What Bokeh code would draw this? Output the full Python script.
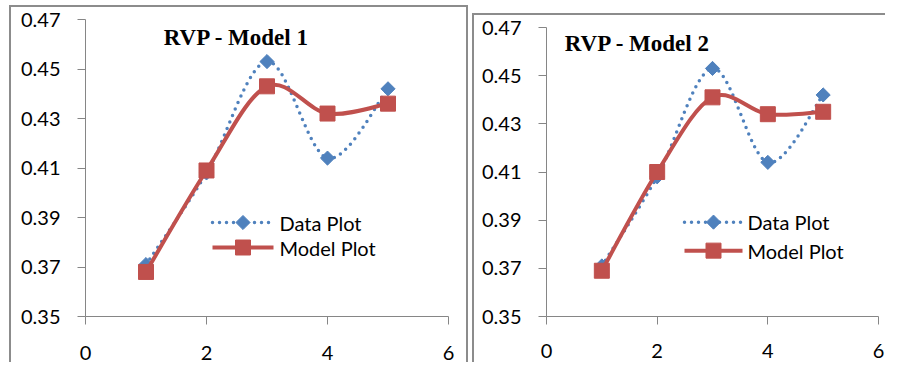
import numpy as np
from bokeh.plotting import figure
from bokeh.models import Range1d, FixedTicker, NumeralTickFormatter, Label
from bokeh.layouts import row
from bokeh.embed import file_html
from bokeh.resources import INLINE

# ---- data ----
x_vals = [1, 2, 3, 4, 5]
data_plot = [0.371, 0.408, 0.453, 0.414, 0.442]
model1_plot = [0.368, 0.409, 0.443, 0.432, 0.436]
model2_plot = [0.369, 0.410, 0.441, 0.434, 0.435]
titles = ["RVP - Model 1", "RVP - Model 2"]
series_names = ["Data Plot", "Model Plot"]
x_ticks = [0, 2, 4, 6]
y_ticks = [0.35, 0.37, 0.39, 0.41, 0.43, 0.45, 0.47]

BLUE = "#4F81BD"
RED = "#C0504D"
AXIS = "#868686"
BORDER = "#8c8c8c"
FONT = "Lato"


def smooth_segments(xs, ys):
    """Catmull-Rom style Bezier control points (Excel 'smoothed line')."""
    x = np.asarray(xs, float)
    y = np.asarray(ys, float)
    xp = np.concatenate([[x[0]], x, [x[-1]]])
    yp = np.concatenate([[y[0]], y, [y[-1]]])
    seg = dict(x0=[], y0=[], x1=[], y1=[], cx0=[], cy0=[], cx1=[], cy1=[])
    for i in range(len(x) - 1):
        j = i + 1
        seg["x0"].append(xp[j]); seg["y0"].append(yp[j])
        seg["x1"].append(xp[j + 1]); seg["y1"].append(yp[j + 1])
        seg["cx0"].append(xp[j] + (xp[j + 1] - xp[j - 1]) / 6)
        seg["cy0"].append(yp[j] + (yp[j + 1] - yp[j - 1]) / 6)
        seg["cx1"].append(xp[j + 1] - (xp[j + 2] - xp[j]) / 6)
        seg["cy1"].append(yp[j + 1] - (yp[j + 2] - yp[j]) / 6)
    return seg


def make_panel(title, model_vals, width, height, mb, title_pos, leg, x_standoff, border_shadow):
    left, right, top, bottom = mb
    fw = width - left - right
    fh = height - top - bottom
    p = figure(width=width, height=height, output_backend="svg", toolbar_location=None,
               x_range=Range1d(0, 6), y_range=Range1d(0.35, 0.47),
               min_border_left=left, min_border_right=right,
               min_border_top=top, min_border_bottom=bottom)
    p.extra_x_ranges = {"px": Range1d(0, fw)}
    p.extra_y_ranges = {"px": Range1d(0, fh)}
    p.border_fill_color = None
    p.background_fill_color = None
    p.outline_line_color = None
    p.grid.visible = False
    p.styles = {"box-shadow": border_shadow}

    for ax in (p.xaxis[0], p.yaxis[0]):
        ax.axis_line_color = AXIS
        ax.axis_line_width = 1
        ax.major_tick_line_color = AXIS
        ax.major_tick_out = 8
        ax.major_tick_in = 0
        ax.minor_tick_line_color = None
        ax.major_label_text_font = FONT
        ax.major_label_text_font_size = "20px"
        ax.major_label_text_color = "#000000"
    p.xaxis.ticker = FixedTicker(ticks=x_ticks)
    p.yaxis.ticker = FixedTicker(ticks=y_ticks)
    p.yaxis.formatter = NumeralTickFormatter(format="0.00")
    p.yaxis.major_label_standoff = 17
    p.xaxis.major_label_standoff = x_standoff

    # data series (smoothed dotted)
    sd = smooth_segments(x_vals, data_plot)
    p.bezier(source=sd, x0="x0", y0="y0", x1="x1", y1="y1", cx0="cx0", cy0="cy0",
             cx1="cx1", cy1="cy1", line_color=BLUE, line_width=3.5,
             line_dash="0 7", line_cap="round")
    p.scatter(x_vals, data_plot, marker="square", angle=np.pi / 4, size=10,
              fill_color=BLUE, line_color=BLUE)
    # model series
    sm = smooth_segments(x_vals, model_vals)
    p.bezier(source=sm, x0="x0", y0="y0", x1="x1", y1="y1", cx0="cx0", cy0="cy0",
             cx1="cx1", cy1="cy1", line_color=RED, line_width=4)
    p.scatter(x_vals, model_vals, marker="square", size=15,
              fill_color=RED, line_color=RED)

    # title
    tx, ty = title_pos
    p.add_layout(Label(x=tx, y=ty, x_range_name="px", y_range_name="px", text=title,
                       text_font="Liberation Serif", text_font_style="bold",
                       text_font_size="23px", text_align="center",
                       text_baseline="middle", text_color="#000000"))

    # legend (hand-built sample glyphs)
    lx0, lx1, row_y, tx_leg = leg
    cx = (lx0 + lx1) / 2
    p.line([lx0, lx1], [row_y[0], row_y[0]], x_range_name="px", y_range_name="px",
           line_color=BLUE, line_width=3.5, line_dash="0 7", line_cap="round")
    p.scatter([cx], [row_y[0]], x_range_name="px", y_range_name="px", marker="square",
              angle=np.pi / 4, size=10, fill_color=BLUE, line_color=BLUE)
    p.line([lx0, lx1], [row_y[1], row_y[1]], x_range_name="px", y_range_name="px",
           line_color=RED, line_width=4)
    p.scatter([cx], [row_y[1]], x_range_name="px", y_range_name="px", marker="square",
              size=15, fill_color=RED, line_color=RED)
    for name, yy in zip(series_names, row_y):
        p.add_layout(Label(x=tx_leg, y=yy, x_range_name="px", y_range_name="px", text=name,
                           text_font=FONT, text_font_size="20px", text_align="left",
                           text_baseline="middle", text_color="#000000"))
    return p


p1 = make_panel(titles[0], model1_plot, 459, 357, (76, 20, 14, 46),
                (151, 279), (127, 188, (94, 69), 194), 21,
                f"inset 2px 2px 0 0 {BORDER}, inset -2px 0 0 0 {BORDER}")
p1.margin = (5, 0, 0, 9)
p2 = make_panel(titles[1], model2_plot, 413, 349, (74, 7, 13, 42),
                (91, 278), (138, 196, (96, 67), 201), 19,
                f"inset 2px 2px 0 0 {BORDER}")
p2.margin = (13, 0, 0, 4)

layout = row(p1, p2)
open("out.html", "w").write(file_html(layout, INLINE))
